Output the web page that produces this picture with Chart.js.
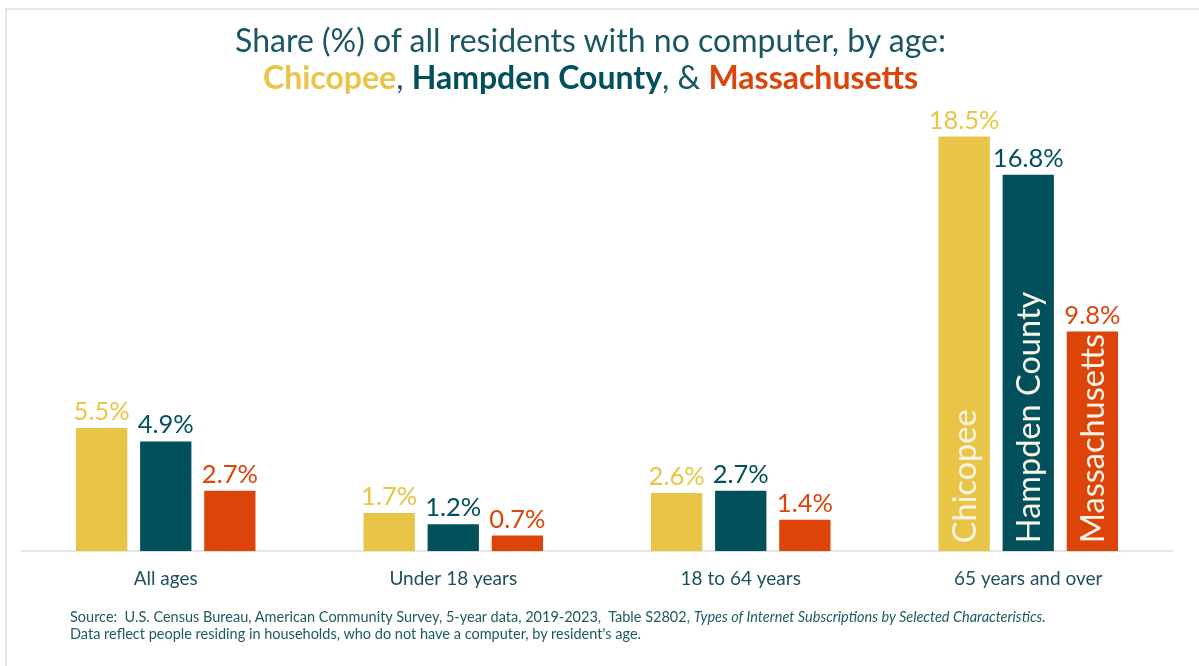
<!DOCTYPE html>
<html>
<head>
<meta charset="utf-8">
<script src="https://cdn.jsdelivr.net/npm/chart.js@4/dist/chart.umd.min.js"></script>
<style>
  html, body { margin: 0; padding: 0; background: #ffffff; }
  #wrap { position: relative; width: 1199px; height: 666px; overflow: hidden; background: #fff; }
  #frame { position: absolute; left: 5px; top: 8px; right: -4px; bottom: -4px;
           border-top: 2px solid #e6e6e6; border-left: 2px solid #e6e6e6; }
  #chart { position: absolute; left: 0; top: 0; }
  #title { position: absolute; left: 0; width: 1181px; top: 21px; text-align: center;
           font-family: Lato, "Open Sans", sans-serif; font-size: 32px; line-height: 37px; color: #1b5763; }
  #title b { font-weight: 700; }
  #note { position: absolute; left: 70px; top: 608px; font-family: Lato, sans-serif;
          font-size: 14.5px; line-height: 17px; color: #1d5a63; white-space: nowrap; }
</style>
</head>
<body>
<div id="wrap">
  <div id="frame"></div>
  <canvas id="chart" width="1199" height="666"></canvas>
  <div id="title">Share (%) of all residents with no computer, by age:<br>
    <b style="color:#e8c547">Chicopee</b>, <b style="color:#02505c">Hampden County</b>, &amp; <b style="color:#dd4409">Massachusetts</b></div>
  <div id="note">Source:&nbsp; U.S. Census Bureau, American Community Survey, 5-year data, 2019-2023,&nbsp; Table S2802, <i>Types of Internet Subscriptions by Selected Characteristics.</i><br>
    Data reflect people residing in households, who do not have a computer, by resident's age.</div>
</div>
<script>
// Age groups along the x axis
const ageGroups = ['All ages', 'Under 18 years', '18 to 64 years', '65 years and over'];
// Share (%) of residents with no computer
const chicopee = [5.5, 1.7, 2.6, 18.5];
const hampden = [4.9, 1.2, 2.7, 16.8];
const massachusetts = [2.7, 0.7, 1.4, 9.8];
const seriesNames = ['Chicopee', 'Hampden County', 'Massachusetts'];
const seriesColors = ['#e8c547', '#02505c', '#dd4409'];

// Value labels above each bar, plus series names written up inside the last group
const barLabels = {
  id: 'barLabels',
  afterDatasetsDraw(chart) {
    const ctx = chart.ctx;
    const lastIdx = ageGroups.length - 1;
    chart.data.datasets.forEach((ds, di) => {
      const meta = chart.getDatasetMeta(di);
      meta.data.forEach((bar, i) => {
        ctx.save();
        ctx.fillStyle = seriesColors[di];
        ctx.font = '400 25.5px Lato, sans-serif';
        ctx.textAlign = 'center';
        ctx.textBaseline = 'alphabetic';
        ctx.fillText(ds.data[i].toFixed(1) + '%', bar.x, bar.y - 8);
        ctx.restore();
        if (i === lastIdx) {
          ctx.save();
          ctx.translate(bar.x, bar.base - 8);
          ctx.rotate(-Math.PI / 2);
          ctx.fillStyle = '#f8f4e8';
          ctx.font = '400 32.5px Lato, sans-serif';
          ctx.textAlign = 'left';
          ctx.textBaseline = 'middle';
          ctx.fillText(seriesNames[di], 0, 1);
          ctx.restore();
        }
      });
    });
  }
};

new Chart(document.getElementById('chart'), {
  type: 'bar',
  data: {
    labels: ageGroups,
    datasets: [chicopee, hampden, massachusetts].map((vals, k) => ({
      label: seriesNames[k],
      data: vals,
      backgroundColor: seriesColors[k],
      borderWidth: 0,
      categoryPercentage: 0.669,
      barPercentage: 0.8
    }))
  },
  options: {
    responsive: false,
    animation: false,
    devicePixelRatio: 1,
    layout: { padding: { left: 22, right: 27, top: 103, bottom: 60 } },
    plugins: { legend: { display: false }, tooltip: { enabled: false }, title: { display: false } },
    scales: {
      x: {
        grid: { display: false, drawTicks: false },
        border: { display: true, color: '#e6e6e6', width: 2 },
        ticks: { color: '#1e4f5b', font: { family: 'Lato, sans-serif', size: 19 }, padding: 16 }
      },
      y: {
        display: false,
        min: 0,
        max: 20
      }
    }
  },
  plugins: [barLabels]
});
</script>
</body>
</html>
